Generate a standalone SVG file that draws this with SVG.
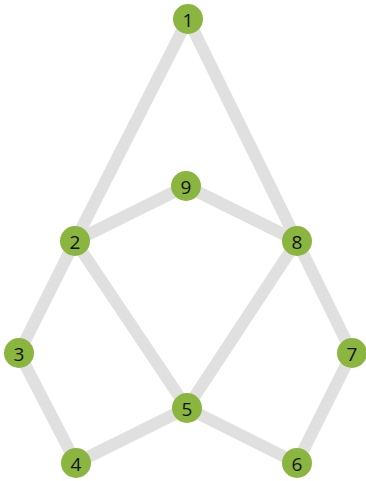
<svg xmlns="http://www.w3.org/2000/svg" width="366" height="481" viewBox="0 0 366 481">
<style>
.e{stroke:#e0e0e0;stroke-width:12;stroke-linecap:butt;fill:none}
.n circle{fill:#8ab53e}
.n text{font-family:"Open Sans","DejaVu Sans",sans-serif;font-size:19px;fill:#111;text-anchor:middle;dominant-baseline:central}
</style>
<rect width="366" height="481" fill="#fff"/>
<g id="edges">
<line class="e" x1="188" y1="19" x2="75" y2="241"/>
<line class="e" x1="188" y1="19" x2="297" y2="241"/>
<line class="e" x1="75" y1="241" x2="186" y2="186"/>
<line class="e" x1="186" y1="186" x2="297" y2="241"/>
<line class="e" x1="75" y1="241" x2="19" y2="353"/>
<line class="e" x1="75" y1="241" x2="187" y2="408"/>
<line class="e" x1="297" y1="241" x2="187" y2="408"/>
<line class="e" x1="297" y1="241" x2="352" y2="353"/>
<line class="e" x1="19" y1="353" x2="76" y2="463"/>
<line class="e" x1="76" y1="463" x2="187" y2="408"/>
<line class="e" x1="187" y1="408" x2="297" y2="463"/>
<line class="e" x1="297" y1="463" x2="352" y2="353"/>
</g>
<g id="n1" class="n"><circle cx="188" cy="19" r="15"/><text x="188" y="20">1</text></g>
<g id="n9" class="n"><circle cx="186" cy="186" r="15"/><text x="186" y="187">9</text></g>
<g id="n2" class="n"><circle cx="75" cy="241" r="15"/><text x="75" y="242">2</text></g>
<g id="n8" class="n"><circle cx="297" cy="241" r="15"/><text x="297" y="242">8</text></g>
<g id="n3" class="n"><circle cx="19" cy="353" r="15"/><text x="19" y="354">3</text></g>
<g id="n7" class="n"><circle cx="352" cy="353" r="15"/><text x="352" y="354">7</text></g>
<g id="n5" class="n"><circle cx="187" cy="408" r="15"/><text x="187" y="409">5</text></g>
<g id="n4" class="n"><circle cx="76" cy="463" r="15"/><text x="76" y="464">4</text></g>
<g id="n6" class="n"><circle cx="297" cy="463" r="15"/><text x="297" y="464">6</text></g>
</svg>
